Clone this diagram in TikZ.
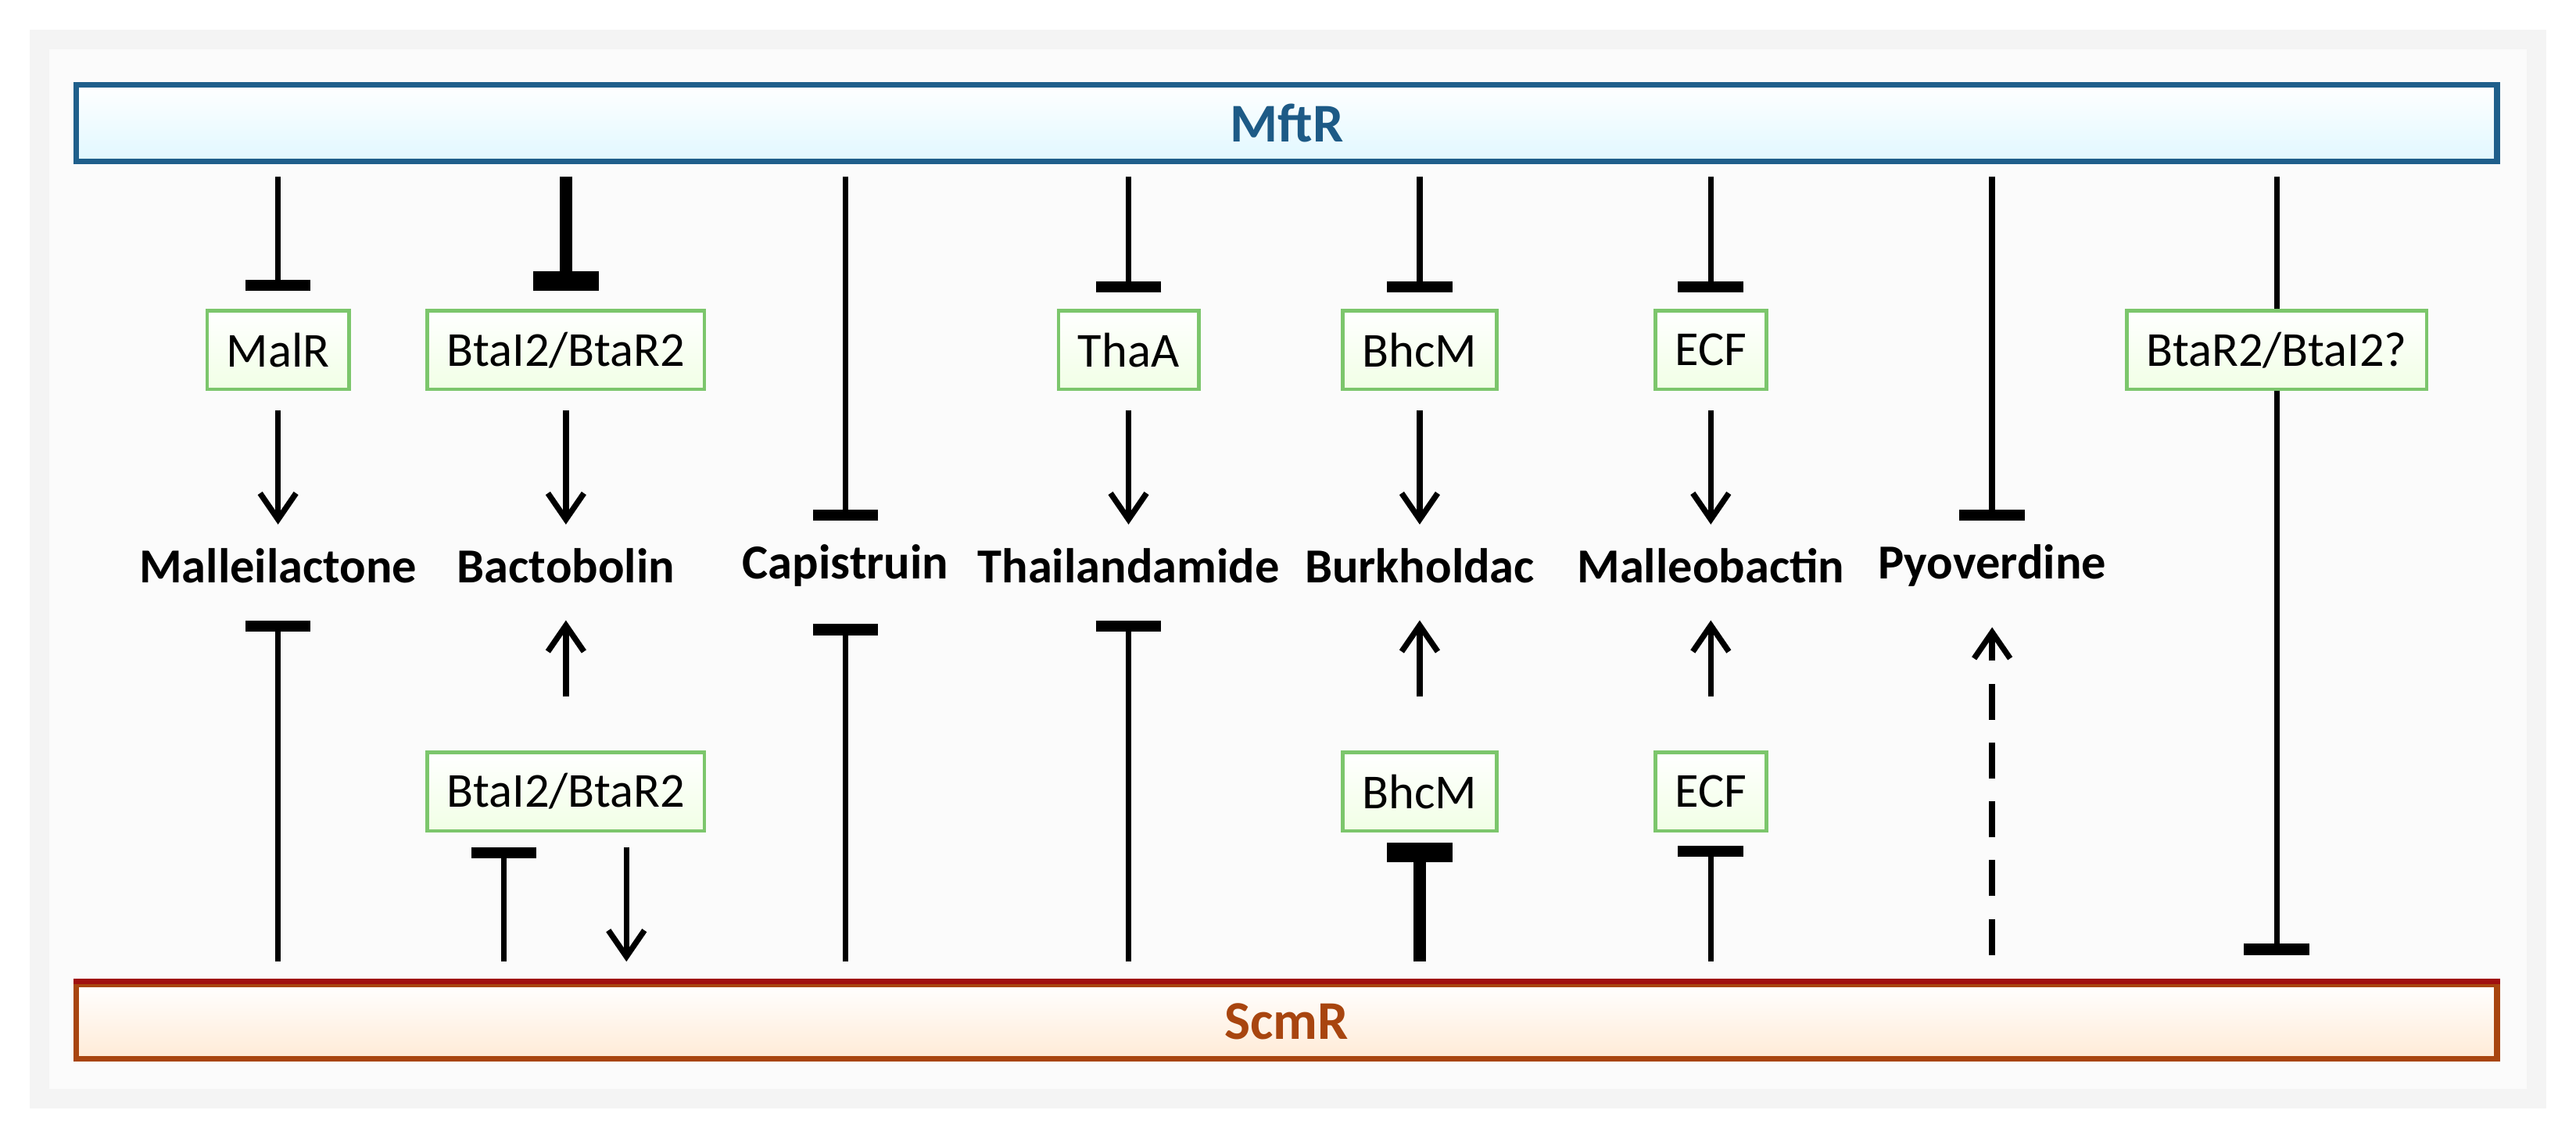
\documentclass[tikz,border=0pt]{standalone}
\usepackage{fontspec}
\setmainfont{Carlito}
\usetikzlibrary{arrows.meta}
\definecolor{mblue}{HTML}{1F5F8B}
\definecolor{mtext}{HTML}{1D5A86}
\definecolor{sred}{HTML}{A01010}
\definecolor{stext}{HTML}{A8450F}
\definecolor{gbord}{HTML}{7CC66C}
\begin{document}
\begin{tikzpicture}[x=0.1mm,y=-0.1mm,
  gbox/.style={draw=gbord,line width=0.6pt,top color=white,bottom color=green!40!lime!10!white,minimum height=4.8mm,inner xsep=1.2mm,font=\fontsize{8.5}{10}\selectfont},
  lab/.style={font=\bfseries\fontsize{8.5}{10}\selectfont,inner sep=0pt},
  ln/.style={line width=1pt},
  act/.style={ln,-{Straight Barb[length=1.6mm,width=2.2mm,line width=1pt]}},
  inh/.style={ln,-{Bar[width=4mm,line width=2pt]}},
  thk/.style={line width=2.2pt,-{Bar[width=4mm,line width=3.4pt]}},
  dsh/.style={act,dash pattern=on 2.2mm off 1.4mm}]
\useasboundingbox (0,0) rectangle (1575,694);
\fill[gray!9] (18,18) rectangle (1557,678);
\fill[gray!3] (30,30) rectangle (1545,666);
\node[draw=mblue,line width=1pt,top color=white,bottom color=blue!25!cyan!12!white,minimum width=148mm,minimum height=4.5mm,anchor=north west,text=mtext,font=\bfseries\fontsize{9.5}{11}\selectfont] (M) at (45,50) {MftR};
\node[draw=stext,line width=1pt,top color=white,bottom color=orange!16!white,minimum width=148mm,minimum height=4.5mm,anchor=north west,text=stext,font=\bfseries\fontsize{9.5}{11}\selectfont] (S) at (45,600) {ScmR};
\draw[sred,line width=1pt] (S.north west) -- (S.north east);
% top boxes
\node[gbox] (b1) at (170,214) {MalR};
\node[gbox] (b2) at (346,214) {BtaI2/BtaR2};
\node[gbox] (b4) at (690,214) {ThaA};
\node[gbox] (b5) at (868,214) {BhcM};
\node[gbox] (b6) at (1046,214) {ECF};
\node[gbox] (b8) at (1392,214) {BtaR2/BtaI2?};
% bottom boxes
\node[gbox] (d2) at (346,484) {BtaI2/BtaR2};
\node[gbox] (d5) at (868,484) {BhcM};
\node[gbox] (d6) at (1046,484) {ECF};
% labels
\node[lab] (l1) at (170,346) {Malleilactone};
\node[lab] (l2) at (346,346) {Bactobolin};
\node[lab] (l3) at (517,346) {Capistruin};
\node[lab] (l4) at (690,346) {Thailandamide};
\node[lab] (l5) at (868,346) {Burkholdac};
\node[lab] (l6) at (1046,346) {Malleobactin};
\node[lab] (l7) at (1218,346) {Pyoverdine};
% coordinates
\foreach \n/\x in {1/170,2/346,3/517,4/690,5/868,6/1046,7/1218,8/1392}{
  \coordinate (t\n) at (\x,108);
  \coordinate (u\n) at (\x,588);}
\coordinate (u2a) at (308,588); \coordinate (u2b) at (383,588);
\coordinate (v2a) at (308,518); \coordinate (v2b) at (383,518);
% top inhibitions
\draw[inh,shorten >=1.1mm] (t1) -- (b1);
\draw[thk,shorten >=1.1mm] (t2) -- (b2);
\draw[inh,shorten >=1.0mm] (t4) -- (b4);
\draw[inh,shorten >=1.0mm] (t5) -- (b5);
\draw[inh,shorten >=1.0mm] (t6) -- (b6);
\draw[inh,shorten >=1.4mm] (t3) -- (l3);
\draw[inh,shorten >=1.4mm] (t7) -- (l7);
\draw[ln] (t8) -- (b8);
\draw[inh] (b8) -- (1392,584);
% box to product
\foreach \n in {1,2,4,5,6}{\draw[act,shorten <=1.2mm,shorten >=1.4mm] (b\n) -- (l\n);}
% bottom
\draw[inh,shorten >=2.2mm] (u1) -- (l1);
\draw[inh,shorten >=2.2mm] (u3) -- (l3);
\draw[inh,shorten >=2.2mm] (u4) -- (l4);
\draw[dsh,shorten >=2.4mm,shorten <=0.4mm] (u7) -- (l7);
\draw[act,shorten <=3.3mm,shorten >=2.2mm] (d2) -- (l2);
\draw[act,shorten <=3.3mm,shorten >=2.2mm] (d5) -- (l5);
\draw[act,shorten <=3.3mm,shorten >=2.2mm] (d6) -- (l6);
\draw[thk,shorten >=0.6mm] (u5) -- (d5);
\draw[inh,shorten >=0.8mm] (u6) -- (d6);
\draw[inh] (u2a) -- (v2a);
\draw[act] (v2b) -- (u2b);
\end{tikzpicture}
\end{document}
